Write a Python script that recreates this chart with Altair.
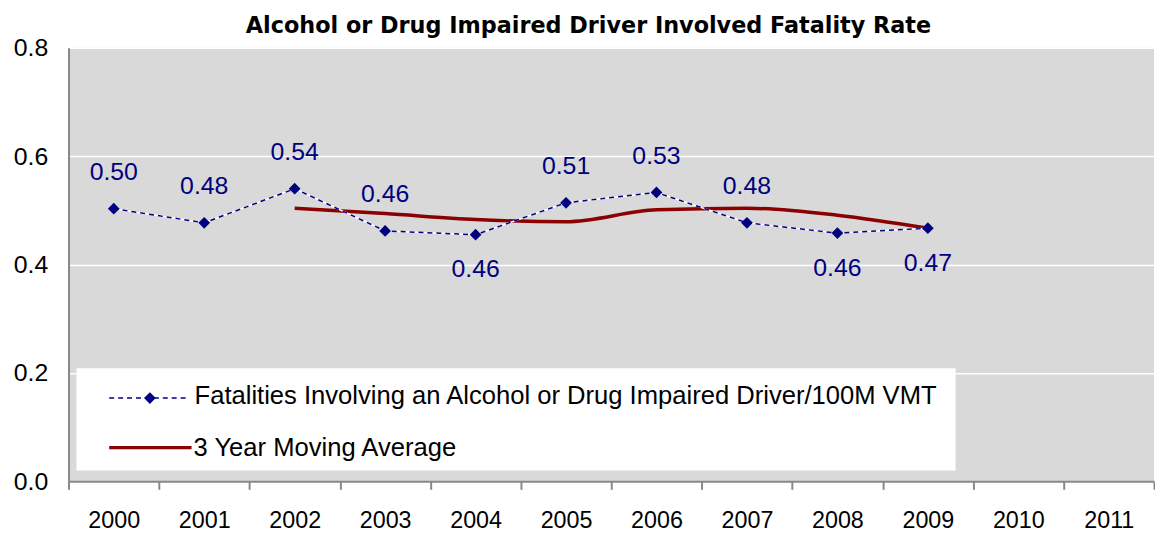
import altair as alt
import pandas as pd

# ---- data ----
years = [str(y) for y in range(2000, 2012)]
rate_years = years[:10]
rate_values = [0.503, 0.477, 0.540, 0.462, 0.455, 0.514, 0.533, 0.477, 0.458, 0.467]
rate_labels = ["0.50", "0.48", "0.54", "0.46", "0.46", "0.51", "0.53", "0.48", "0.46", "0.47"]
below_years = ["2004", "2008", "2009"]
ma_years = years[2:10]
ma_values = [0.504, 0.494, 0.483, 0.479, 0.501, 0.504, 0.491, 0.467]
y_ticks = [0.0, 0.2, 0.4, 0.6, 0.8]
title_text = "Alcohol or Drug Impaired Driver Involved Fatality Rate"
legend_labels = ["Fatalities Involving an Alcohol or Drug Impaired Driver/100M VMT",
                 "3 Year Moving Average"]

rate_df = pd.DataFrame({"year": rate_years, "value": rate_values, "label": rate_labels})
rate_df["below"] = rate_df["year"].isin(below_years)
ma_df = pd.DataFrame({"year": ma_years, "value": ma_values})

NAVY = "#000080"
RED = "#8B0000"
FONT = "Liberation Sans"

xscale = alt.Scale(type="band", domain=years, paddingInner=0, paddingOuter=0)
yscale = alt.Scale(domain=[0, 0.8], nice=False, zero=True)

x_enc = alt.X("year:N", scale=xscale, bandPosition=0.5,
              axis=alt.Axis(title=None, tickBand="extent", labelAngle=0,
                            labelFontSize=23.5, labelFont=FONT, labelColor="#000",
                            labelPadding=20, tickSize=8, tickColor="#888888",
                            tickWidth=2, domainColor="#888888", domainWidth=2,
                            grid=False))
y_enc = alt.Y("value:Q", scale=yscale,
              axis=alt.Axis(title=None, values=y_ticks, format=".1f",
                            labelFontSize=25, labelFont=FONT, labelColor="#000",
                            labelPadding=21, ticks=False, domainColor="#888888",
                            domainWidth=2, grid=True, gridColor="white",
                            gridWidth=1.5))

base_rate = alt.Chart(rate_df)
ma_line = alt.Chart(ma_df).mark_line(color=RED, strokeWidth=3.5, interpolate="monotone").encode(x=x_enc, y=y_enc)
rate_under = base_rate.mark_line(color="white", strokeWidth=1.5).encode(x=x_enc, y=y_enc)
rate_line = base_rate.mark_line(color=NAVY, strokeWidth=1.5, strokeDash=[5, 4]).encode(x=x_enc, y=y_enc)
rate_pts = base_rate.mark_point(shape="diamond", filled=True, size=140, color=NAVY, opacity=1).encode(x=x_enc, y=y_enc)
lab_above = base_rate.transform_filter("!datum.below").mark_text(
    font=FONT, fontSize=25, color=NAVY, baseline="middle", dy=-37
).encode(x=x_enc, y=y_enc, text="label:N")
lab_below = base_rate.transform_filter("datum.below").mark_text(
    font=FONT, fontSize=25, color=NAVY, baseline="middle", dy=35
).encode(x=x_enc, y=y_enc, text="label:N")

one = alt.InlineData(values=[{"k": 0}])
leg_box = alt.Chart(one).mark_rect(color="white").encode(
    x=alt.value(8), x2=alt.value(894), y=alt.value(323), y2=alt.value(426))
leg_l1 = alt.Chart(one).mark_rule(color=NAVY, strokeWidth=1.5, strokeDash=[5, 4]).encode(
    x=alt.value(41), x2=alt.value(119), y=alt.value(353))
leg_p1 = alt.Chart(one).mark_point(shape="diamond", filled=True, size=140, color=NAVY, opacity=1).encode(
    x=alt.value(82), y=alt.value(353))
leg_t1 = alt.Chart(one).mark_text(font=FONT, fontSize=25.8, color="#000", align="left", baseline="alphabetic").encode(
    x=alt.value(127), y=alt.value(359), text=alt.value(legend_labels[0]))
leg_l2 = alt.Chart(one).mark_rule(color=RED, strokeWidth=3.5).encode(
    x=alt.value(41), x2=alt.value(124), y=alt.value(403))
leg_t2 = alt.Chart(one).mark_text(font=FONT, fontSize=25.8, color="#000", align="left", baseline="alphabetic").encode(
    x=alt.value(126), y=alt.value(411), text=alt.value(legend_labels[1]))

chart = alt.layer(
    ma_line, rate_under, rate_line, rate_pts, lab_above, lab_below,
    leg_box, leg_l1, leg_p1, leg_t1, leg_l2, leg_t2
).properties(
    width=1094, height=437,
    padding={"left": 5, "top": 5, "right": 0, "bottom": 0},
    title=alt.TitleParams(title_text, font="DejaVu Sans", fontSize=22.5, fontWeight="bold",
                          color="#000", anchor="middle", offset=-2, dx=-23),
    background="white",
).configure_view(fill="#d9d9d9", strokeWidth=0)

chart.save("out.html", embed_options={"renderer": "svg", "actions": False})
